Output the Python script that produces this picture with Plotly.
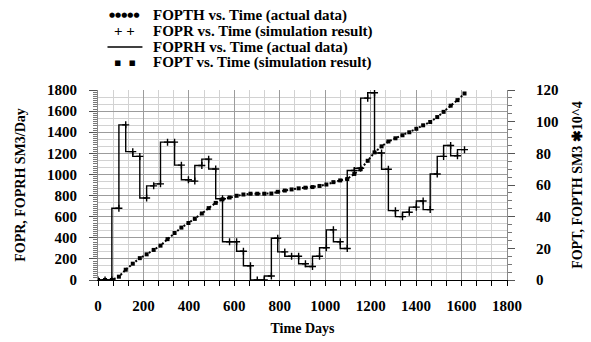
import plotly.graph_objects as go

# Report times (days) and field rates / cumulative totals
days = [0, 31, 61, 92, 122, 153, 184, 214, 245, 275, 306, 337, 367, 398, 426,
        457, 487, 518, 548, 579, 610, 640, 671, 701, 732, 763, 791, 822, 852,
        883, 913, 944, 975, 1005, 1036, 1066, 1097, 1128, 1156, 1187, 1217,
        1248, 1278, 1309, 1340, 1370, 1401, 1431, 1462, 1493, 1521, 1552,
        1582, 1613]

# oil production rate, SM3/Day
fopr_sim = [0, 0, 0, 680, 1470, 1216, 1171, 777, 892, 911, 1306, 1306, 1088,
            950, 937, 1085, 1145, 1052, 770, 363, 363, 272, 135, 0, 0, 38, 395,
            266, 225, 225, 154, 128, 225, 305, 475, 363, 298, 1037, 1059, 1723,
            1774, 1203, 1049, 657, 600, 642, 690, 748, 667, 1004, 1171, 1274,
            1177, 1235]
foprh_hist = list(fopr_sim)

# cumulative oil production, SM3 x 10^4
fopt_sim = [0, 0, 0, 2.1, 6.5, 10.3, 13.8, 16.2, 19.0, 21.7, 25.8, 29.7, 33.1,
            36.0, 38.6, 42.0, 45.4, 48.7, 51.0, 52.1, 53.2, 54.0, 54.5, 54.5,
            54.5, 54.6, 55.7, 56.5, 57.2, 57.9, 58.3, 58.7, 59.4, 60.3, 61.8,
            62.9, 63.8, 67.0, 70.0, 75.3, 80.6, 84.4, 87.5, 89.5, 91.4, 93.3,
            95.5, 97.7, 99.8, 102.9, 106.2, 110.1, 113.6, 117.8]
fopth_hist = list(fopt_sim)

legend_labels = [
    "FOPTH vs. Time (actual data)",
    "FOPR vs. Time (simulation result)",
    "FOPRH vs. Time (actual data)",
    "FOPT vs. Time (simulation result)",
]

W, H = 591, 342
ML, MR, MT, MB = 97.5, 84, 90, 61.5
FONT = "Liberation Serif"
MAJOR_GRID = "#9c9c9c"
MINOR_GRID = "#d2d2d2"

fig = go.Figure()

# rate history: step line
fig.add_trace(go.Scatter(
    x=days, y=foprh_hist, mode="lines", line_shape="vh",
    line=dict(color="black", width=1.4), name=legend_labels[2], yaxis="y"))
# rate simulation: plus markers
fig.add_trace(go.Scatter(
    x=days, y=fopr_sim, mode="markers", name=legend_labels[1], yaxis="y",
    marker=dict(symbol="cross-thin", size=5, color="black",
                line=dict(color="black", width=1.4))))
# cumulative history: dotted line
fig.add_trace(go.Scatter(
    x=days, y=fopth_hist, mode="lines", name=legend_labels[0], yaxis="y2",
    line=dict(color="black", width=2, dash="2px,2px")))
# cumulative simulation: square markers
fig.add_trace(go.Scatter(
    x=days, y=fopt_sim, mode="markers", name=legend_labels[3], yaxis="y2",
    marker=dict(symbol="square", size=4, color="black")))

tick_font = dict(family=FONT, size=15, color="black", weight="bold")
title_font = dict(family=FONT, size=14, color="black", weight="bold")

fig.update_layout(
    width=W, height=H,
    margin=dict(l=ML, r=MR, t=MT, b=MB, pad=0),
    paper_bgcolor="white", plot_bgcolor="white",
    showlegend=False,
    xaxis=dict(
        range=[0, 1800], tick0=0, dtick=200, showgrid=True,
        gridcolor=MAJOR_GRID, gridwidth=1, zeroline=False,
        showline=True, linecolor="black", linewidth=1,
        ticks="outside", ticklen=5, tickcolor="black",
        ticklabelstandoff=7,
        minor=dict(dtick=200 / 3, showgrid=True, gridcolor=MINOR_GRID,
                   ticks="outside", ticklen=5, tickcolor="black"),
        tickfont=tick_font,
        title=dict(text="Time Days", font=title_font, standoff=10),
        automargin=False,
    ),
    yaxis=dict(
        range=[0, 1800], tick0=0, dtick=200, showgrid=True,
        gridcolor=MAJOR_GRID, zeroline=False,
        showline=True, linecolor="#8a8a8a", linewidth=1,
        ticks="outside", ticklen=8, tickcolor="#555555",
        ticklabelstandoff=9,
        minor=dict(dtick=20, ticks="outside", ticklen=4,
                   tickcolor="#777777", showgrid=False),
        tickfont=tick_font,
        title=dict(text="FOPR, FOPRH SM3/Day", font=title_font, standoff=18),
        automargin=False,
    ),
    yaxis2=dict(
        overlaying="y", side="right", anchor="x",
        range=[0, 120], tick0=0, dtick=20, showgrid=False, zeroline=False,
        showline=True, linecolor="#8a8a8a", linewidth=1,
        ticks="outside", ticklen=7, tickcolor="#555555",
        ticklabelstandoff=18,
        minor=dict(dtick=5, ticks="outside", ticklen=4, tickcolor="#777777",
                   showgrid=False),
        tickfont=tick_font,
        title=dict(text="FOPT, FOPTH SM3 \u273110^4", font=title_font,
                   standoff=14),
        automargin=False,
    ),
    # fine horizontal grid at a third of each rate division
    yaxis3=dict(
        overlaying="y", anchor="x", range=[0, 1800], showgrid=False,
        zeroline=False, showline=False, showticklabels=False, ticks="",
        minor=dict(dtick=200 / 3, showgrid=True, gridcolor=MINOR_GRID),
    ),
)

fig.add_trace(go.Scatter(x=[None], y=[None], yaxis="y3", showlegend=False,
                         hoverinfo="skip"))

# legend block above the plot
plot_h = H - MT - MB
plot_w = W - ML - MR


def px_x(px):
    return (px - ML) / plot_w


def px_y(py):
    return (H - MB - py) / plot_h


rows_y = [15, 31, 47, 62]
sym_x0, sym_x1, text_x = 107, 142, 151
sym_mid = (sym_x0 + sym_x1) / 2

fig.add_annotation(x=px_x(sym_mid), y=px_y(rows_y[0]), xref="paper",
                   yref="paper", text="\u25cf\u25cf\u25cf\u25cf\u25cf",
                   showarrow=False, xanchor="center", yanchor="middle",
                   font=dict(family="DejaVu Sans", size=7, color="black"))
fig.add_shape(type="line", xref="paper", yref="paper",
              x0=px_x(sym_x0), x1=px_x(sym_x1), y0=px_y(rows_y[2]),
              y1=px_y(rows_y[2]), line=dict(color="black", width=1.5))
fig.add_annotation(x=px_x(sym_mid), y=px_y(rows_y[1]),
                   xref="paper", yref="paper", text="+ +", showarrow=False,
                   xanchor="center", yanchor="middle",
                   font=dict(family=FONT, size=15, color="black", weight="bold"))
fig.add_annotation(x=px_x(sym_mid), y=px_y(rows_y[3]),
                   xref="paper", yref="paper", text="\u25aa  \u25aa",
                   showarrow=False, xanchor="center", yanchor="middle",
                   font=dict(family="DejaVu Sans", size=11, color="black"))
for ry, label in zip(rows_y, legend_labels):
    fig.add_annotation(x=px_x(text_x), y=px_y(ry), xref="paper", yref="paper",
                       text=label, showarrow=False, xanchor="left",
                       yanchor="middle",
                       font=dict(family=FONT, size=15, color="black",
                                 weight="bold"))

fig.write_html("out.html")
